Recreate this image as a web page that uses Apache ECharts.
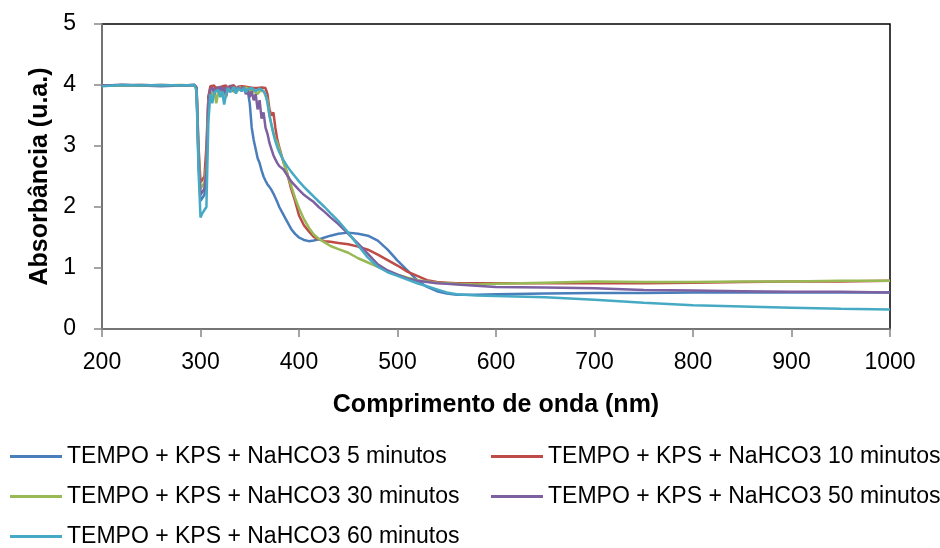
<!DOCTYPE html>
<html>
<head>
<meta charset="utf-8">
<script src="https://cdn.jsdelivr.net/npm/echarts@6/dist/echarts.min.js"></script>
<style>
html,body{margin:0;padding:0;background:#fff;}
#chart{width:940px;height:548px;}
</style>
</head>
<body>
<div id="chart"></div>
<script>
const wavelengths = [200,220,240,260,280,294,
  296,298,300,302,304,306,308,
  310,312,314,316,318,320,322,324,326,328,330,332,334,336,338,340,342,344,346,348,
  350,352,354,356,358,360,362,364,366,368,370,372,374,376,378,380,
  384,388,392,396,400,
  405,410,415,420,
  426,432,440,
  450,460,470,480,490,500,510,520,530,540,550,560,
  580,600,
  650,700,750,800,850,900,950,1000];

const seriesNames = [
  'TEMPO + KPS + NaHCO3 5 minutos',
  'TEMPO + KPS + NaHCO3 10 minutos',
  'TEMPO + KPS + NaHCO3 30 minutos',
  'TEMPO + KPS + NaHCO3 50 minutos',
  'TEMPO + KPS + NaHCO3 60 minutos'
];

const min5 = [3.99,4.0,3.99,3.98,3.99,4.0,
  3.95,2.7,2.1,2.15,2.2,2.8,3.8,
  3.95,3.98,3.92,3.97,3.9,3.96,3.99,3.93,3.97,3.9,3.98,3.95,3.99,3.92,3.97,3.94,3.9,3.95,3.92,3.9,
  3.7,3.3,3.1,2.95,2.8,2.72,2.6,2.5,2.43,2.37,2.33,2.28,2.22,2.15,2.08,2.0,
  1.88,1.76,1.64,1.56,1.5,
  1.46,1.44,1.45,1.47,
  1.5,1.53,1.56,
  1.58,1.56,1.53,1.45,1.3,1.12,0.96,0.8,0.69,0.62,0.58,0.56,
  0.56,0.57,
  0.58,0.59,0.59,0.6,0.6,0.6,0.6,0.6];

const min10 = [3.99,4.0,3.99,4.0,3.99,4.0,
  3.96,3.0,2.4,2.45,2.5,3.0,3.8,
  3.98,3.95,3.99,3.9,3.97,3.92,3.98,3.95,3.99,3.94,3.98,3.96,3.99,3.93,3.97,3.95,3.98,3.96,3.97,3.95,
  3.96,3.97,3.95,3.96,3.95,3.94,3.96,3.95,3.95,3.85,3.6,3.5,3.55,3.3,3.1,2.98,
  2.75,2.55,2.3,2.1,1.86,
  1.7,1.6,1.51,1.47,
  1.44,1.43,1.41,
  1.39,1.35,1.3,1.22,1.13,1.04,0.94,0.87,0.8,0.77,0.76,0.75,
  0.75,0.75,
  0.75,0.75,0.75,0.76,0.77,0.78,0.78,0.79];

const min30 = [3.99,3.99,4.0,3.99,4.0,3.99,
  3.95,2.9,2.3,2.35,2.4,2.7,3.7,
  3.9,3.75,3.93,3.7,3.88,3.95,3.85,3.92,3.8,3.97,3.9,3.96,3.88,3.95,3.9,3.97,3.92,3.96,3.93,3.95,
  3.88,3.94,3.9,3.93,3.85,3.9,3.92,3.9,3.88,3.75,3.5,3.35,3.22,3.12,3.05,2.95,
  2.75,2.55,2.35,2.15,1.98,
  1.8,1.66,1.55,1.48,
  1.42,1.36,1.31,
  1.25,1.16,1.09,1.02,0.95,0.89,0.84,0.8,0.78,0.76,0.75,0.74,
  0.73,0.74,
  0.76,0.78,0.77,0.77,0.78,0.78,0.79,0.79];

const min50 = [3.99,4.0,4.0,3.99,3.99,4.0,
  3.95,2.8,2.2,2.25,2.3,2.6,3.7,
  3.92,3.96,3.85,3.95,3.9,3.98,3.88,3.96,3.82,3.95,3.99,3.9,3.96,3.88,3.97,3.93,3.9,3.96,3.85,3.92,
  3.8,3.9,3.75,3.85,3.6,3.75,3.45,3.55,3.3,3.2,3.05,2.95,2.85,2.78,2.72,2.67,
  2.62,2.52,2.42,2.35,2.28,
  2.2,2.14,2.08,2.0,
  1.92,1.83,1.72,
  1.56,1.4,1.23,1.06,0.96,0.89,0.83,0.79,0.77,0.75,0.74,0.73,
  0.71,0.69,
  0.68,0.67,0.64,0.63,0.62,0.61,0.61,0.6];

const min60 = [3.98,4.0,3.99,4.0,3.99,4.0,
  3.9,2.6,1.83,1.9,1.95,2.0,3.4,
  3.85,3.7,3.88,3.85,3.92,3.8,3.9,3.68,3.85,3.95,3.88,3.92,3.97,3.86,3.95,3.98,3.9,3.95,3.88,3.93,
  3.9,3.95,3.92,3.9,3.93,3.94,3.92,3.9,3.85,3.7,3.5,3.35,3.2,3.08,2.98,2.9,
  2.77,2.67,2.58,2.5,2.42,
  2.33,2.25,2.17,2.09,
  2.0,1.9,1.77,
  1.58,1.37,1.17,1.02,0.93,0.87,0.81,0.75,0.7,0.65,0.6,0.57,
  0.55,0.54,
  0.52,0.48,0.43,0.39,0.37,0.35,0.33,0.32];

const seriesValues = [min5, min10, min30, min50, min60];
const colors = ['#4A7EBB','#BE4B48','#98B954','#7D60A0','#46AAC5'];

const FONT = '"Liberation Sans", Arial, sans-serif';

const chart = echarts.init(document.getElementById('chart'), null, {renderer:'canvas'});

const series = seriesNames.map((name, i) => ({
  name: name,
  type: 'line',
  symbol: 'none',
  showSymbol: false,
  smooth: false,
  lineStyle: {width: 2.5, color: colors[i]},
  itemStyle: {color: colors[i]},
  data: wavelengths.map((w, j) => [w, seriesValues[i][j]])
}));

const legendText = {fontFamily: FONT, fontSize: 23, color: '#000', lineHeight: 22};
const legendLeft = [10, 491, 10, 491, 10];
const legendTop = [445, 445, 485, 485, 525];
const legends = seriesNames.map((name, i) => ({
  data: [name], orient: 'horizontal', left: legendLeft[i], top: legendTop[i], padding: 0,
  icon: 'rect', itemWidth: 52, itemHeight: 3, textStyle: legendText
}));

chart.setOption({
  animation: false,
  backgroundColor: '#fff',
  color: colors,
  grid: {left: 102, right: 50, top: 24, bottom: 219, show: true, borderColor: '#000', borderWidth: 1.5, backgroundColor: 'transparent'},
  xAxis: {
    type: 'value', min: 200, max: 1000, interval: 100,
    name: 'Comprimento de onda (nm)', nameLocation: 'middle', nameGap: 64,
    nameTextStyle: {fontFamily: FONT, fontSize: 25, fontWeight: 'bold', color: '#000'},
    axisLine: {show: true, lineStyle: {color: '#868686', width: 1.5}},
    axisTick: {show: true, inside: false, length: 8, lineStyle: {color: '#868686', width: 1.5}},
    axisLabel: {fontFamily: FONT, fontSize: 23, color: '#000', margin: 22, formatter: v => String(v)},
    splitLine: {show: false}
  },
  yAxis: {
    type: 'value', min: 0, max: 5, interval: 1,
    name: 'Absorbância (u.a.)', nameLocation: 'middle', nameGap: 45,
    nameTextStyle: {fontFamily: FONT, fontSize: 25, fontWeight: 'bold', color: '#000'},
    axisLine: {show: true, lineStyle: {color: '#868686', width: 1.5}},
    axisTick: {show: true, inside: false, length: 8, lineStyle: {color: '#868686', width: 1.5}},
    axisLabel: {fontFamily: FONT, fontSize: 23, color: '#000', margin: 26},
    splitLine: {show: false}
  },
  legend: legends,
  series: series
});
</script>
</body>
</html>
